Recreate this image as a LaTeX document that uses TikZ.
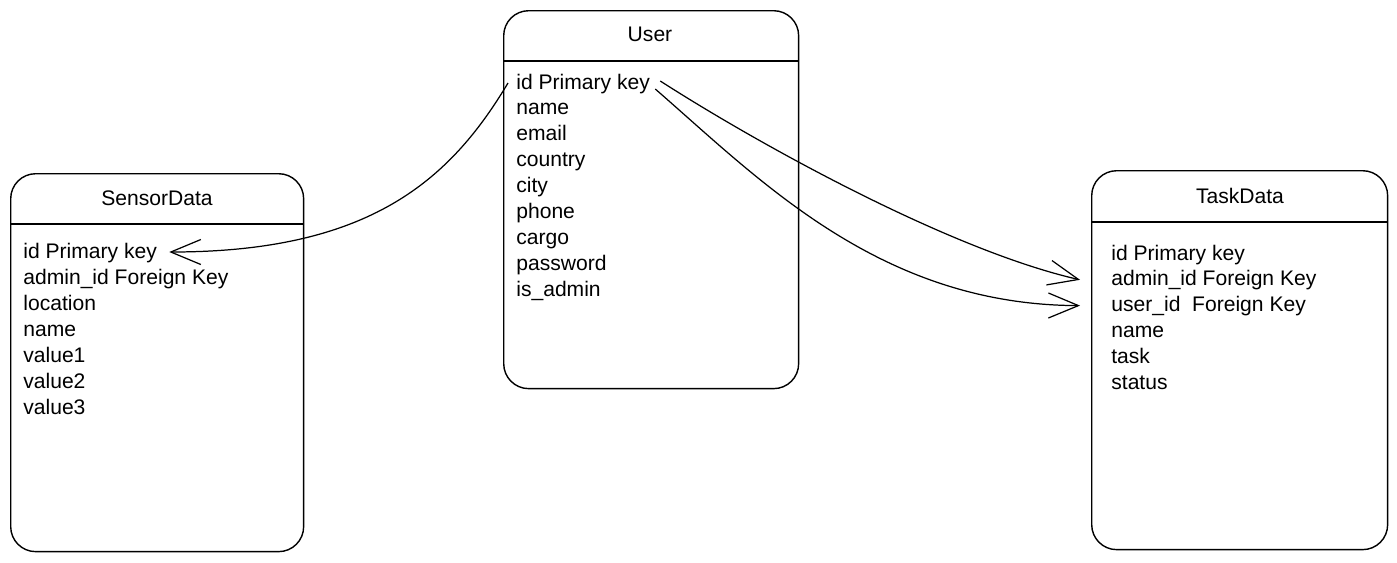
\documentclass[tikz,border=0pt]{standalone}
\usepackage{fontspec}
\setmainfont{Liberation Sans}
\usetikzlibrary{arrows.meta,positioning}

\tikzset{
  tablebox/.style={draw, rounded corners=0.5cm, line width=0.8pt, anchor=north west, inner sep=0pt},
  headtext/.style={font=\fontsize{12}{14}\selectfont, inner sep=0pt},
  field/.style={anchor=west, inner sep=0pt, text height=1.6ex, text depth=.3ex, font=\fontsize{12}{14}\selectfont},
  link/.style={line width=0.7pt, -{Straight Barb[length=6mm,width=5mm,line width=0.7pt]}}
}

\begin{document}
\begin{tikzpicture}[x=0.02cm,y=-0.02cm]
  \useasboundingbox (0,0) rectangle (1397,562);

  % tables
  \node[tablebox, minimum width=5.86cm, minimum height=7.56cm] (sensor) at (10,173) {};
  \node[tablebox, minimum width=5.90cm, minimum height=7.56cm] (user) at (503,10) {};
  \node[tablebox, minimum width=5.92cm, minimum height=7.58cm] (task) at (1091,170) {};

  \draw[line width=0.8pt] (sensor.west |- 0,224) -- (sensor.east |- 0,224);
  \draw[line width=0.8pt] (user.west |- 0,61) -- (user.east |- 0,61);
  \draw[line width=0.8pt] (task.west |- 0,222) -- (task.east |- 0,222);

  \node[headtext] (sensortitle) at (157,198) {SensorData};
  \node[headtext] (usertitle) at (650,34) {User};
  \node[headtext] (tasktitle) at (1240,196) {TaskData};

  % fields
  \foreach \f [count=\i] in {id Primary key, admin\_id Foreign Key, location, name, value1, value2, value3}
    \node[field] (s\i) at (23,{252+26*(\i-1)}) {\f};
  \foreach \f [count=\i] in {id Primary key, name, email, country, city, phone, cargo, password, is\_admin}
    \node[field] (u\i) at (516,{83+25.9*(\i-1)}) {\f};
  \foreach \f [count=\i] in {id Primary key, admin\_id Foreign Key, user\_id\ \ Foreign Key, name, task, status}
    \node[field] (t\i) at (1111,{254+25.8*(\i-1)}) {\f};

  % relations
  \draw[link] ([xshift=-0.16cm]u1.west) .. controls (450,180) and (370,252) .. ([xshift=0.24cm]s1.east);
  \draw[link] ([xshift=0.2cm,yshift=0.04cm]u1.east) .. controls (760,145) and (950,250) .. ([xshift=-0.62cm]t2.west);
  \draw[link] ([xshift=0.1cm,yshift=-0.12cm]u1.east) .. controls (760,180) and (880,305) .. ([xshift=-0.62cm]t3.west);
\end{tikzpicture}
\end{document}
